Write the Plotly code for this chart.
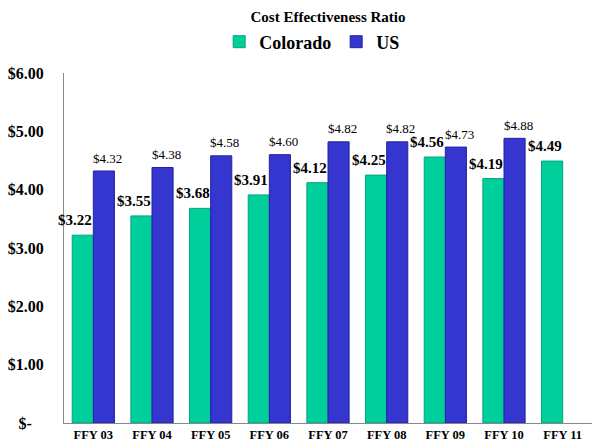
import plotly.graph_objects as go

categories = ["FFY 03", "FFY 04", "FFY 05", "FFY 06", "FFY 07", "FFY 08", "FFY 09", "FFY 10", "FFY 11"]
colorado = [3.22, 3.55, 3.68, 3.91, 4.12, 4.25, 4.56, 4.19, 4.49]
us = [4.32, 4.38, 4.58, 4.60, 4.82, 4.82, 4.73, 4.88, None]
ytick_vals = [0, 1, 2, 3, 4, 5, 6]
ytick_text = ["$-   ", "$1.00", "$2.00", "$3.00", "$4.00", "$5.00", "$6.00"]

FONT = "Liberation Serif, Times New Roman, serif"

fig = go.Figure()
fig.add_trace(go.Bar(
    name="<b>Colorado</b>", x=categories, y=colorado,
    marker=dict(color="#00CF9C", line=dict(color="#00A57C", width=1)),
))
fig.add_trace(go.Bar(
    name="<b>US</b>", x=categories, y=us,
    marker=dict(color="#3535CF", line=dict(color="#2323A0", width=1)),
))

annotations = []
for c, v in zip(categories, colorado):
    annotations.append(dict(x=c, y=v, xref="x", yref="y", text=f"<b>${v:.2f}</b>",
                            showarrow=False, xshift=-18, yshift=15,
                            font=dict(family=FONT, size=15, color="black")))
for c, v in zip(categories, us):
    if v is None:
        continue
    annotations.append(dict(x=c, y=v, xref="x", yref="y", text=f"${v:.2f}",
                            showarrow=False, xshift=14, yshift=13,
                            font=dict(family=FONT, size=13, color="black")))

fig.update_layout(
    width=592, height=444, autosize=False,
    margin=dict(l=64, r=0, t=73, b=21, autoexpand=False),
    paper_bgcolor="white", plot_bgcolor="white",
    barmode="group", bargap=0.28, bargroupgap=0,
    font=dict(family=FONT, color="black"),
    title=dict(text="<b>Cost Effectiveness Ratio</b>", x=0.5, xanchor="center",
               xref="paper", y=1 - 17 / 444, yanchor="middle", yref="container",
               font=dict(family=FONT, size=15, color="black")),
    showlegend=True,
    legend=dict(orientation="h", x=0.47, xanchor="center", y=1 - 42 / 444, yanchor="middle",
                yref="container", font=dict(family=FONT, size=18, color="black"),
                itemwidth=30, tracegroupgap=0),
    xaxis=dict(range=[-0.5, 8.5], showline=True, linecolor="#888888", linewidth=1, ticks="",
               tickfont=dict(family=FONT, size=12.5, weight="bold"), showgrid=False),
    yaxis=dict(range=[0, 6], tickvals=ytick_vals, ticktext=ytick_text, showline=True,
               linecolor="#888888", linewidth=1, ticks="", showgrid=False, zeroline=False,
               ticklabelstandoff=16,
               tickfont=dict(family=FONT, size=16, weight="bold")),
    annotations=annotations,
)
fig.write_html("out.html", config={"displayModeBar": False},
               post_script="document.body.style.margin='0px';")
